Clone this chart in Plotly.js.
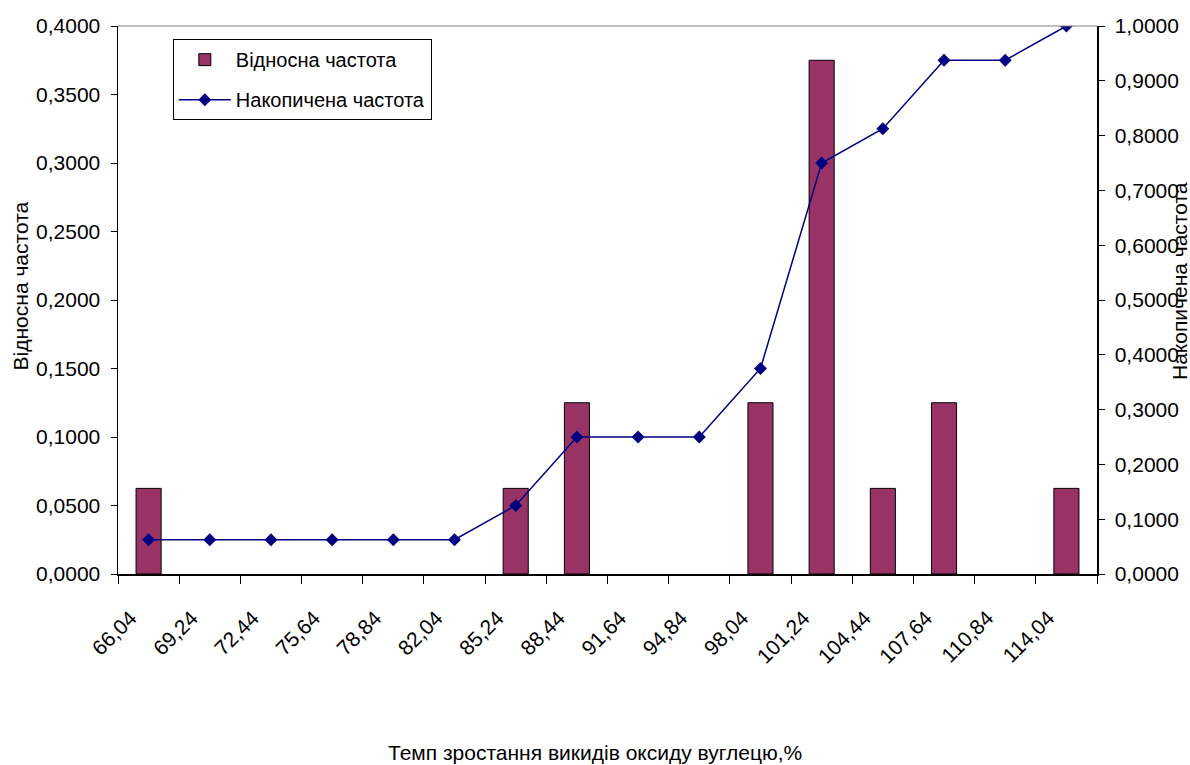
<!DOCTYPE html>
<html>
<head>
<meta charset="utf-8">
<script src="https://cdn.plot.ly/plotly-3.0.1.min.js"></script>
<style>
  html, body { margin: 0; padding: 0; background: #ffffff; }
  #chart { width: 1190px; height: 765px; }
</style>
</head>
<body>
<div id="chart"></div>
<script>
// Interval labels (lower bounds of the growth-rate classes, %)
const categories = ["66,04", "69,24", "72,44", "75,64", "78,84", "82,04", "85,24", "88,44",
                    "91,64", "94,84", "98,04", "101,24", "104,44", "107,64", "110,84", "114,04"];

// Relative frequency per class
const relativeFreq = [0.0625, 0, 0, 0, 0, 0, 0.0625, 0.125,
                      0, 0, 0.125, 0.375, 0.0625, 0.125, 0, 0.0625];

// Cumulative frequency per class
const cumulativeFreq = [0.0625, 0.0625, 0.0625, 0.0625, 0.0625, 0.0625, 0.125, 0.25,
                        0.25, 0.25, 0.375, 0.75, 0.8125, 0.9375, 0.9375, 1.0];

const seriesNames = ["Відносна частота", "Накопичена частота"];
const xTitle = "Темп зростання викидів оксиду вуглецю,%";
const yLeftTitle = "Відносна частота";
const yRightTitle = "Накопичена частота";

const FONT = "'Liberation Sans', Arial, sans-serif";
const tickFont = { family: FONT, size: 21, color: "#000" };

// empty classes get no outline so no flat sliver shows on the axis
const barOutline = relativeFreq.map(v => (v > 0 ? 1 : 0));

const traces = [
  {
    type: "bar",
    name: seriesNames[0],
    x: categories,
    y: relativeFreq,
    xaxis: "x",
    yaxis: "y",
    legendgroup: "a",
    marker: { color: "#993366", line: { color: "#000000", width: barOutline } },
    hoverinfo: "x+y"
  },
  {
    type: "scatter",
    mode: "lines+markers",
    name: seriesNames[1],
    x: categories,
    y: cumulativeFreq,
    xaxis: "x",
    yaxis: "y2",
    legendgroup: "b",
    line: { color: "#000080", width: 1.5 },
    marker: { symbol: "diamond", size: 10, color: "#000080" },
    hoverinfo: "x+y"
  }
];

const layout = {
  width: 1190,
  height: 765,
  margin: { l: 118, r: 93, t: 26, b: 191 },
  paper_bgcolor: "#ffffff",
  plot_bgcolor: "#ffffff",
  separators: ", ",
  bargap: 0.59,
  showlegend: true,
  legend: {
    x: 0.056, y: 0.976, xanchor: "left", yanchor: "top",
    bgcolor: "#ffffff", bordercolor: "#000000", borderwidth: 1,
    font: { family: FONT, size: 20, color: "#000" },
    traceorder: "grouped", tracegroupgap: 11,
    itemwidth: 52
  },
  xaxis: {
    type: "category",
    categoryorder: "array",
    categoryarray: categories,
    range: [-0.5, 15.5],
    tickson: "boundaries",
    ticks: "outside", ticklen: 8, tickwidth: 1, tickcolor: "#000",
    tickangle: -45,
    tickfont: tickFont,
    ticklabelstandoff: 22,
    ticklabelshift: -18,
    showline: true, linecolor: "#000", linewidth: 1.5,
    showgrid: false, zeroline: false,
    fixedrange: true
  },
  yaxis: {
    range: [0, 0.4], dtick: 0.05, tickformat: ".4f",
    ticks: "outside", ticklen: 6, tickwidth: 1, tickcolor: "#000",
    tickfont: tickFont, ticklabelstandoff: 6,
    showline: true, linecolor: "#000", linewidth: 1.5,
    showgrid: false, zeroline: false
  },
  yaxis2: {
    overlaying: "y", side: "right",
    range: [0, 1], dtick: 0.1, tickformat: ".4f",
    ticks: "outside", ticklen: 6, tickwidth: 1, tickcolor: "#000",
    tickfont: tickFont, ticklabelstandoff: 6,
    showline: true, linecolor: "#000", linewidth: 1.5,
    showgrid: false, zeroline: false
  },
  // inner halves of the crossing tick marks
  xaxis3: {
    overlaying: "x", anchor: "y", type: "category",
    categoryorder: "array", categoryarray: categories, range: [-0.5, 15.5],
    tickson: "boundaries", tickvals: categories,
    ticks: "inside", ticklen: 6, tickwidth: 1, tickcolor: "#000",
    showticklabels: false, showline: false, showgrid: false, zeroline: false
  },
  yaxis3: {
    overlaying: "y", side: "left", range: [0, 0.4], dtick: 0.05,
    ticks: "inside", ticklen: 6, tickwidth: 1, tickcolor: "#000",
    showticklabels: false, showline: false, showgrid: false, zeroline: false
  },
  yaxis4: {
    overlaying: "y", side: "right", range: [0, 1], dtick: 0.1,
    ticks: "inside", ticklen: 6, tickwidth: 1, tickcolor: "#000",
    showticklabels: false, showline: false, showgrid: false, zeroline: false
  },
  shapes: [
    { type: "line", xref: "paper", yref: "paper", x0: 0, x1: 1, y0: 1, y1: 1,
      line: { color: "#808080", width: 1 } }
  ],
  annotations: [
    { text: xTitle, xref: "paper", yref: "paper", x: 0.487, y: -0.325,
      xanchor: "center", yanchor: "middle", showarrow: false,
      font: { family: FONT, size: 21, color: "#000" } },
    { text: yLeftTitle, xref: "paper", yref: "paper", x: -0.1, y: 0.525,
      xanchor: "center", yanchor: "middle", showarrow: false, textangle: -90,
      font: { family: FONT, size: 21, color: "#000" } },
    { text: yRightTitle, xref: "paper", yref: "paper", x: 1.085, y: 0.535,
      xanchor: "center", yanchor: "middle", showarrow: false, textangle: -90,
      font: { family: FONT, size: 21, color: "#000" } }
  ]
};

Plotly.newPlot("chart", traces, layout, { displayModeBar: false, staticPlot: true });
</script>
</body>
</html>
